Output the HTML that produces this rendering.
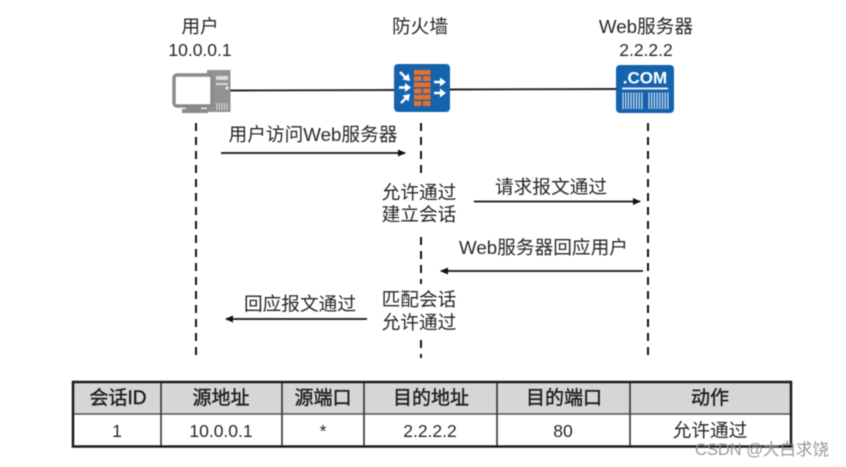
<!DOCTYPE html>
<html><head><meta charset="utf-8"><style>
html,body{margin:0;padding:0;background:#fff;width:846px;height:467px;overflow:hidden}
svg{display:block;filter:blur(.45px)}
text{font-family:"Liberation Sans","Noto Sans CJK SC",sans-serif;fill:#262626;font-size:18.7px;text-anchor:middle}
.n{font-size:17.500px}
.b{font-size:19px;fill:#1c1c1c;stroke:#1c1c1c;stroke-width:.4px}
</style></head><body>
<svg width="846" height="467" viewBox="0 0 846 467" xmlns="http://www.w3.org/2000/svg">
<defs>
<marker id="a" markerWidth="10" markerHeight="8" refX="7" refY="3.5" orient="auto-start-reverse" markerUnits="userSpaceOnUse"><path d="M0 0L8 3.500L0 7z" fill="#111"/></marker>
</defs>
<!-- connectors -->
<line x1="230" y1="90.500" x2="395" y2="90" stroke="#222" stroke-width="1.900"/>
<line x1="449" y1="89.500" x2="617" y2="89" stroke="#222" stroke-width="1.900"/>
<!-- PC -->
<g>
<path d="M207 70h23.500v42h-23.500z" fill="#929292"/>
<rect x="216" y="76" width="12" height="4" fill="#dcdcdc"/>
<rect x="216" y="83" width="12" height="2" fill="#dcdcdc"/>
<circle cx="227" cy="88" r="1.600" fill="#eee"/>
<path d="M217 103v7M219.500 103v7M222 103v7M224.500 103v7M227 103v7" stroke="#ddd" stroke-width="1"/>
<rect x="174" y="75" width="38" height="31" rx="3" fill="#fff" stroke="#8a8a8a" stroke-width="3.400"/>
<rect x="186" y="107.500" width="15" height="2" fill="#8a8a8a"/>
<rect x="182" y="109" width="26" height="4" fill="#8a8a8a"/>
</g>
<!-- firewall -->
<rect x="394" y="64" width="56" height="48" rx="4" fill="#1563ad"/>
<g fill="#e9702a">
<rect x="414" y="70" width="16.500" height="4.800"/>
<rect x="414" y="76.200" width="7.500" height="4.800"/><rect x="423" y="76.200" width="7.500" height="4.800"/>
<rect x="414" y="82.400" width="16.500" height="4.800"/>
<rect x="414" y="88.600" width="7.500" height="4.800"/><rect x="423" y="88.600" width="7.500" height="4.800"/>
<rect x="414" y="94.800" width="16.500" height="4.800"/>
<rect x="414" y="101" width="7.500" height="5"/><rect x="423" y="101" width="7.500" height="5"/>
</g>
<g fill="#fff" stroke="#fff">
<path d="M400 72L406 78" stroke-width="2.500"/><path d="M410 81L402.500 79.500L408.500 73.500z" stroke="none"/>
<path d="M399 87.500H406" stroke-width="2.500"/><path d="M411 87.500L405 83V92z" stroke="none"/>
<path d="M401 103L407 97" stroke-width="2.500"/><path d="M410 94L402.500 95.500L408.500 101.500z" stroke="none"/>
<path d="M434 82H441" stroke-width="2.500"/><path d="M446 82L440 77.500V86.500z" stroke="none"/>
<path d="M434 93H441" stroke-width="2.500"/><path d="M446 93L440 88.500V97.500z" stroke="none"/>
</g>
<!-- server -->
<rect x="616" y="65" width="58" height="48" rx="4" fill="#1563ad"/>
<text x="645" y="83.500" style="fill:#fff;font-size:17px;font-weight:700">.COM</text>
<rect x="622" y="87.500" width="46" height="2" fill="#dfeaf5"/>
<g stroke="#dfeaf5" stroke-width="1.100">
<path d="M623 92.500v16.500M625.700 92.500v16.500M628.400 92.500v16.500M631.100 92.500v16.500M633.800 92.500v16.500M636.500 92.500v16.500M639.200 92.500v16.500M641.900 92.500v16.500"/>
<path d="M649 92.500v16.500M651.700 92.500v16.500M654.400 92.500v16.500M657.100 92.500v16.500M659.800 92.500v16.500M662.500 92.500v16.500M665.200 92.500v16.500M667.900 92.500v16.500"/>
</g>
<!-- lifelines -->
<g stroke="#111" stroke-width="2" stroke-dasharray="8 6" fill="none">
<line x1="196" y1="123" x2="196" y2="358"/>
<line x1="648" y1="123" x2="648" y2="358"/>
<line x1="421" y1="123" x2="421" y2="178"/>
<line x1="421" y1="237" x2="421" y2="284"/>
<line x1="421" y1="340" x2="421" y2="358"/>
</g>
<!-- arrows -->
<g stroke="#111" stroke-width="1.800" fill="none">
<line x1="221" y1="153" x2="405" y2="153" marker-end="url(#a)"/>
<line x1="474" y1="201.500" x2="640" y2="201.500" marker-end="url(#a)"/>
<line x1="643" y1="271" x2="441" y2="271" marker-end="url(#a)"/>
<line x1="367" y1="319" x2="226" y2="319" marker-end="url(#a)"/>
</g>
<!-- labels -->
<text x="200" y="33">用户</text>
<text x="200" y="56" class="n">10.0.0.1</text>
<text x="420" y="33">防火墙</text>
<text x="646" y="33">Web服务器</text>
<text x="646" y="56" class="n">2.2.2.2</text>
<text x="313" y="141">用户访问Web服务器</text>
<text x="419" y="199">允许通过</text>
<text x="419" y="221">建立会话</text>
<text x="551" y="193.500">请求报文通过</text>
<text x="543.500" y="254">Web服务器回应用户</text>
<text x="419" y="306">匹配会话</text>
<text x="419" y="329">允许通过</text>
<text x="300" y="310.500">回应报文通过</text>
<!-- table -->
<rect x="73" y="382" width="718" height="32" fill="#d6d6d6"/>
<rect x="73" y="414" width="718" height="32" fill="#fff"/>
<g stroke="#333" stroke-width="1.600">
<line x1="73" y1="414" x2="791" y2="414" stroke="#555"/>
<line x1="161" y1="382" x2="161" y2="446"/>
<line x1="282" y1="382" x2="282" y2="446"/>
<line x1="364" y1="382" x2="364" y2="446"/>
<line x1="497" y1="382" x2="497" y2="446"/>
<line x1="630" y1="382" x2="630" y2="446"/>
</g>
<rect x="73" y="382" width="718" height="64.500" fill="none" stroke="#1a1a1a" stroke-width="2.500"/>
<text x="118" y="404" class="b">会话ID</text>
<text x="221" y="404" class="b">源地址</text>
<text x="323" y="404" class="b">源端口</text>
<text x="431" y="404" class="b">目的地址</text>
<text x="564" y="404" class="b">目的端口</text>
<text x="710" y="404" class="b">动作</text>
<text x="117" y="437" class="n">1</text>
<text x="221" y="437" class="n">10.0.0.1</text>
<text x="323" y="437" class="n">*</text>
<text x="430" y="437" class="n">2.2.2.2</text>
<text x="563" y="437" class="n">80</text>
<text x="710" y="437">允许通过</text>
<text x="762" y="455" style="font-size:16.500px;fill:#8e8e8e;opacity:.9">CSDN @大白求饶</text>
</svg>
</body></html>
